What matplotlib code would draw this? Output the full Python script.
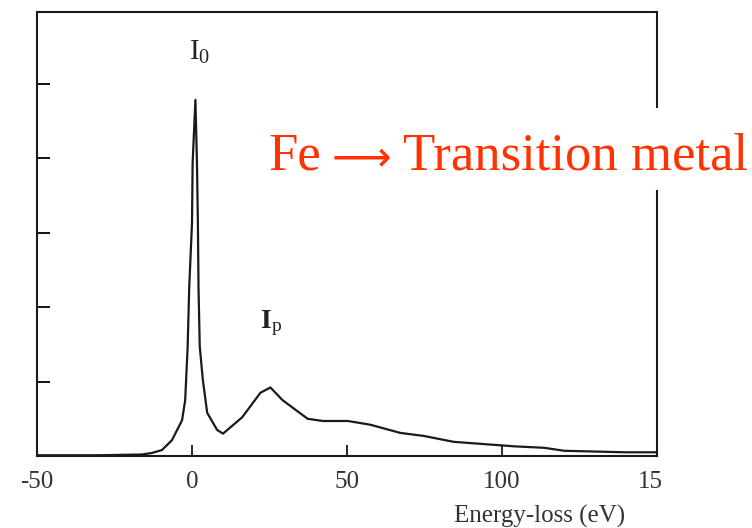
import matplotlib
matplotlib.use("Agg")
import matplotlib.pyplot as plt
from matplotlib.patches import Rectangle

plt.rcParams['font.family'] = ['Liberation Serif', 'DejaVu Serif']
plt.rcParams['mathtext.fontset'] = 'custom'
plt.rcParams['mathtext.rm'] = 'Liberation Serif'
plt.rcParams['mathtext.it'] = 'Liberation Serif:italic'
plt.rcParams['mathtext.bf'] = 'Liberation Serif:bold'

# Data (energy loss in eV, intensity in arbitrary units)
energy = [-50, -30, -16.2, -13, -9.7, -6.5, -3.2, -2.2, -1.4, -0.9, 0.0, 0.2, 1.1,
          1.6, 1.9, 2.1, 2.5, 3.5, 4.9, 8.1, 10.0, 16.2, 22.1, 25.3, 29.2, 33.4,
          37.3, 42.2, 50.3, 57.5, 67.2, 74.7, 84.4, 97.4, 103.9, 113.6, 120.1,
          139.6, 149.5]
intensity = [0.01, 0.01, 0.02, 0.04, 0.08, 0.21, 0.48, 0.75, 1.47, 2.26, 3.13, 3.93, 4.78,
             3.93, 3.13, 2.26, 1.47, 1.02, 0.58, 0.35, 0.30, 0.52, 0.85, 0.92, 0.75, 0.62,
             0.50, 0.47, 0.47, 0.42, 0.31, 0.27, 0.19, 0.15, 0.13, 0.11, 0.07,
             0.05, 0.05]
xticks = [-50, 0, 50, 100, 150]
xtick_labels = ['-50', '0', '50', '100', '150']
yticks = [1, 2, 3, 4, 5]

fig = plt.figure(figsize=(7.52, 5.28), dpi=100)
ax = fig.add_axes([37/752, 1 - 456/528, (657-37)/752, (456-12)/528])

ax.plot(energy, intensity, color='#1a1a1a', lw=1.6)
ax.set_xlim(-50, 150)
ax.set_ylim(0, 5.96)
ax.set_xticks(xticks)
ax.set_xticklabels(xtick_labels, fontsize=18)
ax.set_yticks(yticks)
ax.set_yticklabels([])
ax.tick_params(axis='x', direction='in', length=8, width=1.3, pad=11, colors='#1a1a1a',
               labelcolor='#333333')
ax.tick_params(axis='y', direction='in', length=9, width=1.3, left=True, right=False)
for s in ax.spines.values():
    s.set_linewidth(1.5)
    s.set_color('#1a1a1a')

ax.text(2.5, 5.42, r'$\mathregular{I_0}$', fontsize=21, ha='center', va='center', color='#222222')
ax.text(25.5, 1.78, r'$\mathbf{I}_{\mathregular{p}}$', fontsize=20, ha='center', va='center',
        color='#222222')

red = '#FF3300'
# white background behind the label (breaks the right spine like in the scan)
fig.patches.append(Rectangle((262/752, 1 - 190/528), (752-262)/752, 82/528,
                             transform=fig.transFigure, facecolor='white',
                             edgecolor='none', zorder=9))
fig.text(268/752, 1 - 170/528, 'Fe', fontsize=38, color=red, ha='left', va='baseline', zorder=10)
fig.text(361/752, 1 - 170/528, '\u27f6', fontsize=30, color=red, ha='center', va='baseline',
         zorder=10, family=['DejaVu Sans'])
fig.text(748/752, 1 - 170/528, 'Transition metal', fontsize=38, color=red, ha='right',
         va='baseline', zorder=10)

fig.text(540/752, 1 - 516/528, 'Energy-loss (eV)', fontsize=18, ha='center', va='center',
         color='#333333')

# The scan is cut off on the right, clipping the last tick label
fig.patches.append(Rectangle((662/752, 0), 1, 1 - 462/528, transform=fig.transFigure,
                             facecolor='white', edgecolor='none', zorder=5))

fig.savefig('out.png', dpi=100)
